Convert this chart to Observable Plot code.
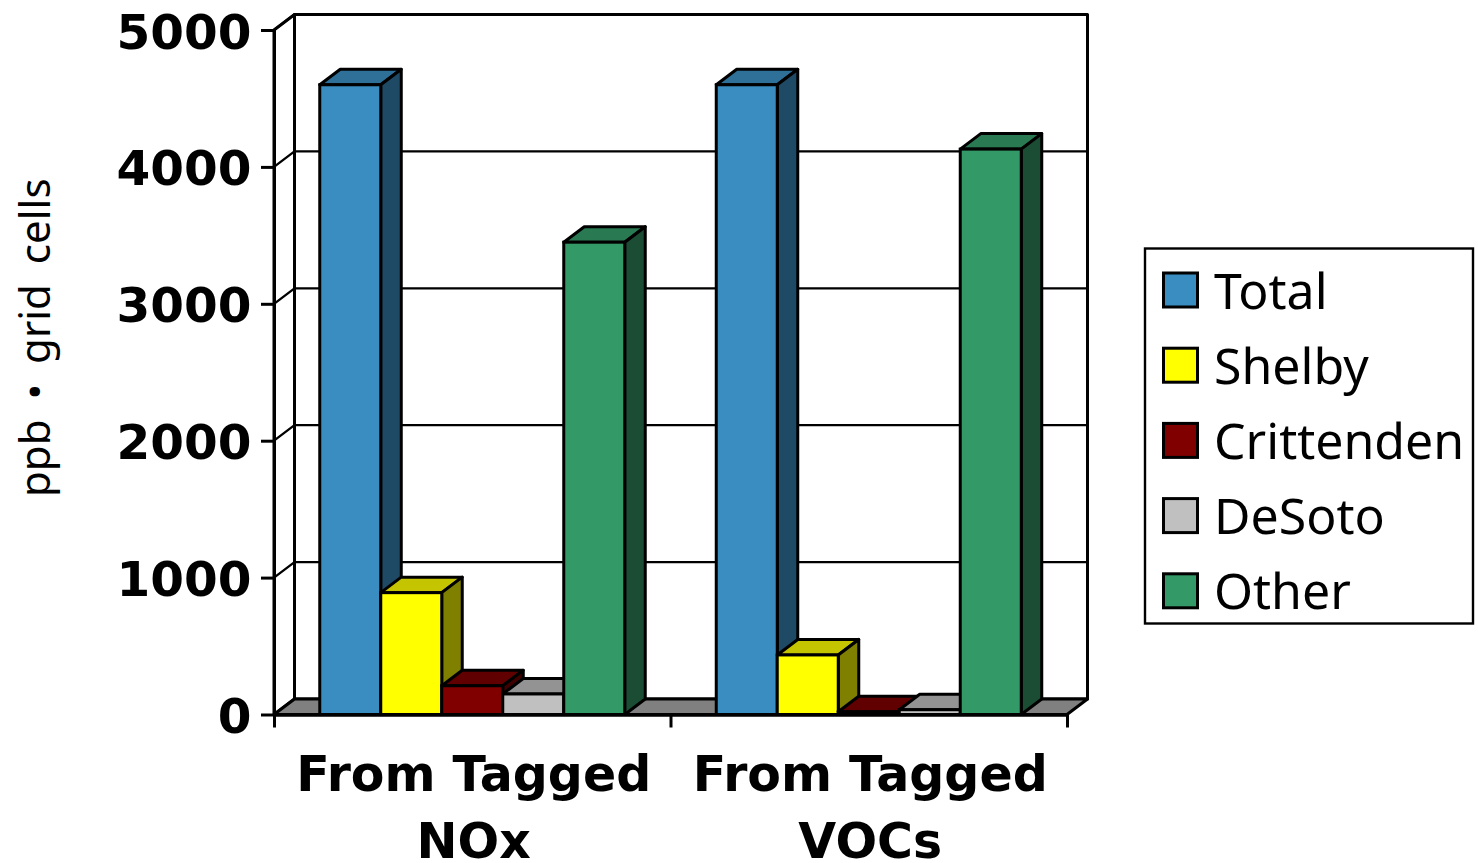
<!DOCTYPE html>
<html>
<head>
<meta charset="utf-8">
<script src="https://cdn.jsdelivr.net/npm/d3@7"></script>
<script src="https://cdn.jsdelivr.net/npm/@observablehq/plot@0.6"></script>
<style>
  html, body { margin: 0; padding: 0; background: #fff; }
  svg { display: block; overflow: visible; }
  .y-title { word-spacing: 9px; }
</style>
</head>
<body>
<div id="chart"></div>
<script>
// Tagged ozone contributions by source region
const categories = ["From Tagged\nNOx", "From Tagged\nVOCs"];
const series = ["Total", "Shelby", "Crittenden", "DeSoto", "Other"];
const fromNOx = [4600, 890, 210, 150, 3450];
const fromVOCs = [4600, 435, 20, 35, 4130];
const yTicks = [0, 1000, 2000, 3000, 4000, 5000];

const frontColors = ["#3a8dc0", "#ffff00", "#800000", "#c0c0c0", "#339966"];
const topColors = ["#2e7098", "#c4c400", "#600000", "#939393", "#297a52"];
const sideColors = ["#1f4a66", "#808000", "#400000", "#606060", "#1b4d34"];

// Oblique projection used for the depth of bars and walls, in pixels
const depthX = 20.5;
const depthY = -15.5;
const lineWidth = 3;

// Excel-style spacing: gap of 1.5 bar widths shared across each category
const barWidth = 1 / (series.length + 1.5);
const table = [fromNOx, fromVOCs].flatMap((values, c) =>
  values.map((value, s) => ({
    category: categories[c],
    series: series[s],
    value,
    x1: c + barWidth * (0.75 + s),
    x2: c + barWidth * (1.75 + s),
    top: topColors[s],
    side: sideColors[s]
  }))
);

const poly = (pts, fill) =>
  d3.create("svg:polygon")
    .attr("points", pts.map((p) => p.join(",")).join(" "))
    .attr("fill", fill)
    .attr("stroke", "#000")
    .attr("stroke-width", lineWidth)
    .attr("stroke-linejoin", "round")
    .node();

// Walls, floor and the gridlines that wrap round them
function backdrop(index, { x, y }) {
  const g = d3.create("svg:g");
  const [x0, x1] = [x(0), x(2)];
  const [y0, y1] = [y(0), y(5000)];
  g.append(() => poly([[x0 + depthX, y1 + depthY], [x1 + depthX, y1 + depthY], [x1 + depthX, y0 + depthY], [x0 + depthX, y0 + depthY]], "#fff"));
  g.append(() => poly([[x0, y0], [x0, y1], [x0 + depthX, y1 + depthY], [x0 + depthX, y0 + depthY]], "#fff"));
  g.append(() => poly([[x0, y0], [x0 + depthX, y0 + depthY], [x1 + depthX, y0 + depthY], [x1, y0]], "#808080"));
  for (const t of yTicks.slice(1)) {
    g.append("polyline")
      .attr("points", [[x0, y(t)], [x0 + depthX, y(t) + depthY], [x1 + depthX, y(t) + depthY]].map((p) => p.join(",")).join(" "))
      .attr("fill", "none")
      .attr("stroke", "#000")
      .attr("stroke-width", lineWidth - 0.7);
  }
  return g.node();
}

// One front rectangle per bar, with its top and side faces added alongside
function bar(d) {
  return Plot.rect([d], {
    x1: "x1",
    x2: "x2",
    y1: 0,
    y2: "value",
    fill: "series",
    stroke: "#000",
    strokeWidth: lineWidth,
    render(index, scales, values, dimensions, context, next) {
      const node = next(index, scales, values, dimensions, context);
      const l = values.x1[0], r = values.x2[0];
      const t = Math.min(values.y1[0], values.y2[0]), b = Math.max(values.y1[0], values.y2[0]);
      node.prepend(poly([[r, t], [r + depthX, t + depthY], [r + depthX, b + depthY], [r, b]], d.side));
      node.prepend(poly([[l, t], [l + depthX, t + depthY], [r + depthX, t + depthY], [r, t]], d.top));
      return node;
    }
  });
}

// Boxed key on the right of the chart
function legend(index, { color }) {
  const g = d3.create("svg:g").attr("text-anchor", "start");
  g.append("rect")
    .attr("x", 1145).attr("y", 248.5).attr("width", 328).attr("height", 375)
    .attr("fill", "#fff").attr("stroke", "#000").attr("stroke-width", lineWidth - 0.6);
  series.forEach((name, i) => {
    const cy = 290.5 + i * 75.2;
    g.append("rect")
      .attr("x", 1163.5).attr("y", cy - 17.5).attr("width", 34).attr("height", 34)
      .attr("fill", color(name)).attr("stroke", "#000").attr("stroke-width", lineWidth);
    g.append("text")
      .attr("x", 1214).attr("y", cy).attr("dy", "0.36em")
      .attr("font-family", "'Noto Sans', sans-serif").attr("font-size", 50)
      .attr("fill", "#000").text(name);
  });
  return g.node();
}

const chart = Plot.plot({
  width: 1478,
  height: 863,
  marginLeft: 274,
  marginRight: 411,
  marginTop: 30,
  marginBottom: 148.5,
  style: { background: "#fff", fontFamily: "'DejaVu Sans', sans-serif", color: "#000" },
  x: { domain: [0, 2] },
  y: { domain: [0, 5000] },
  color: { domain: series, range: frontColors },
  marks: [
    backdrop,
    Plot.axisY({
      ticks: yTicks,
      tickFormat: () => "",
      tickSize: 13,
      strokeWidth: lineWidth,
      label: null
    }),
    Plot.axisY({
      ticks: yTicks,
      tickFormat: "d",
      tickSize: 0,
      tickPadding: 23,
      dy: 2.5,
      fontSize: 48.5,
      fontWeight: "bold",
      label: null
    }),
    Plot.ruleX([0], { y1: 0, y2: 5000, stroke: "#000", strokeWidth: lineWidth }),
    ...table.map(bar),
    Plot.axisX({
      ticks: [0, 1, 2],
      tickFormat: () => "",
      tickSize: 13,
      strokeWidth: lineWidth,
      label: null
    }),
    Plot.axisX({
      ticks: [0.5, 1.5],
      tickFormat: (d) => categories[Math.floor(d)],
      tickSize: 0,
      tickPadding: 28,
      dx: 1,
      fontSize: 49,
      fontWeight: "bold",
      lineHeight: 1.37,
      label: null
    }),
    Plot.ruleY([0], { stroke: "#000", strokeWidth: lineWidth + 0.5 }),
    Plot.text(["ppb • grid cells"], {
      frameAnchor: "left",
      textAnchor: "middle",
      rotate: -90,
      dx: -238,
      dy: -35,
      fontSize: 42,
      fontFamily: "'Noto Sans', sans-serif",
      fill: "#000",
      className: "y-title"
    }),
    legend
  ]
});
document.getElementById("chart").append(chart);
</script>
</body>
</html>
